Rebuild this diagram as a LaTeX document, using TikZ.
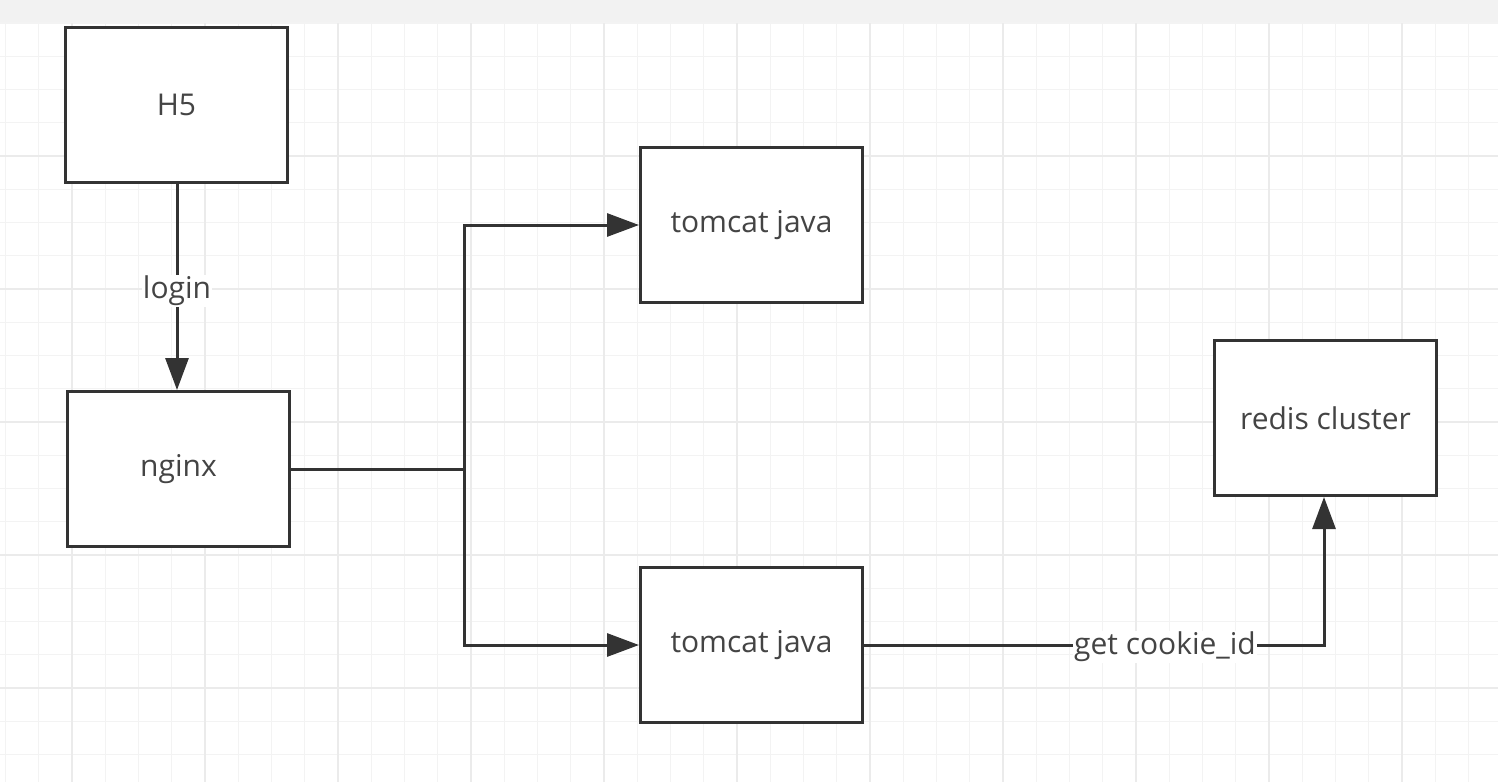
\documentclass[tikz,border=0pt]{standalone}
\usepackage{fontspec}
\setmainfont{Open Sans}
\usetikzlibrary{arrows.meta}
\definecolor{edgec}{HTML}{333333}
\definecolor{textc}{HTML}{444444}
\definecolor{minorg}{HTML}{F3F3F3}
\definecolor{majorg}{HTML}{EBEBEB}
\definecolor{bandc}{HTML}{F2F2F2}
\tikzset{
  box/.style={draw=edgec, line width=3pt, fill=white, minimum width=222pt, minimum height=155pt, inner sep=0pt, text=textc, font=\fontsize{30}{36}\selectfont},
  conn/.style={draw=edgec, line width=3pt},
  arr/.style={conn, -{Triangle[length=32pt,width=23pt]}},
  lbl/.style={fill=white, inner sep=1pt, text=textc, font=\fontsize{30}{36}\selectfont}
}
\begin{document}
\begin{tikzpicture}[x=1pt,y=-1pt]
\useasboundingbox (0,0) rectangle (1498,782);
\fill[white] (0,0) rectangle (1498,782);
\fill[bandc] (0,0) rectangle (1498,23);
% grid
\foreach \i in {-2,...,43} {
  \pgfmathsetmacro{\xx}{72+33.25*\i}
  \draw[minorg, line width=1.2pt] (\xx,23) -- (\xx,782);
}
\foreach \j in {0,...,23} {
  \pgfmathsetmacro{\yy}{23+33.25*\j}
  \draw[minorg, line width=1.2pt] (0,\yy) -- (1498,\yy);
}
\foreach \i in {0,...,10} {
  \pgfmathsetmacro{\xx}{72+133*\i}
  \draw[majorg, line width=1.2pt] (\xx,23) -- (\xx,782);
}
\foreach \j in {1,...,5} {
  \pgfmathsetmacro{\yy}{23+133*\j}
  \draw[majorg, line width=1.2pt] (0,\yy) -- (1498,\yy);
}
% nodes
\node[box] (h5) at (176.5,105) {H5};
\node[box] (nginx) at (178.5,469) {nginx};
\node[box] (t1) at (751.5,225) {tomcat java};
\node[box] (t2) at (751.5,645) {tomcat java};
\node[box] (redis) at (1325.5,418) {redis cluster};
\coordinate (split) at (464,469);
\coordinate (turn) at (1324,645);
% connectors
\draw[arr] (h5.south -| 177,0) -- node[lbl, pos=0.52] {login} (nginx.north -| 177,0);
\draw[conn] (nginx.east) -- (split);
\draw[arr] (split) |- (t1.west);
\draw[arr] (split) |- (t2.west);
\draw[arr] (t2.east) -- (turn) -- (redis.south -| turn);
\node[lbl] (gc) at (1165,647) {get cookie\_id};
\end{tikzpicture}
\end{document}
